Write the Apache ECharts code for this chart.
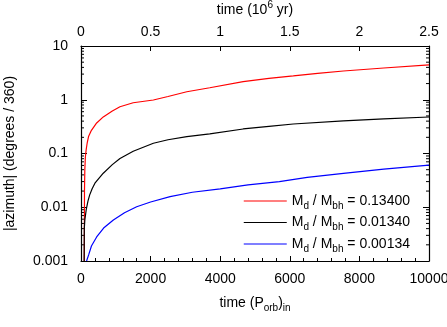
<!DOCTYPE html>
<html>
<head>
<meta charset="utf-8">
<script src="https://cdn.jsdelivr.net/npm/echarts@6/dist/echarts.min.js"></script>
<style>
html, body { margin: 0; padding: 0; background: #fff; }
#main { width: 447px; height: 327px; }
</style>
</head>
<body>
<div id="main"></div>
<script>
// time in orbital periods, azimuth in degrees/360
var tRed = [95, 100, 110, 125, 150, 180, 220, 300, 450, 640, 900, 1120, 1500, 2080, 2500, 3040, 3700, 4660, 5400, 6100, 6800, 7540, 8700, 10000];
var red = [0.001, 0.02, 0.05, 0.085, 0.12, 0.16, 0.21, 0.27, 0.37, 0.48, 0.62, 0.74, 0.88, 0.99, 1.15, 1.41, 1.67, 2.17, 2.5, 2.77, 3.1, 3.43, 3.9, 4.45];

var tBlack = [90, 95, 110, 150, 200, 250, 320, 400, 640, 900, 1120, 1500, 2080, 2500, 3040, 3700, 4660, 5400, 6100, 7540, 8700, 10000];
var black = [0.001, 0.004, 0.0058, 0.009, 0.013, 0.017, 0.022, 0.028, 0.043, 0.062, 0.081, 0.11, 0.155, 0.18, 0.206, 0.231, 0.286, 0.32, 0.354, 0.403, 0.44, 0.478];

var tBlue = [160, 220, 300, 450, 650, 930, 1250, 1600, 2000, 2560, 3200, 4000, 4800, 5700, 6500, 7540, 8700, 10000];
var blue = [0.001, 0.0013, 0.0019, 0.0028, 0.0041, 0.0058, 0.0079, 0.0102, 0.0125, 0.0158, 0.019, 0.022, 0.026, 0.030, 0.036, 0.0428, 0.051, 0.061];

var seriesNames = ['0.13400', '0.01340', '0.00134'];
var seriesColors = ['#ff0000', '#000000', '#0000ff'];
var decades = [0.001, 0.01, 0.1, 1];

var font = 'Liberation Sans, Arial, sans-serif';
var rich = {
    s: { fontSize: 10, fontFamily: font, color: '#000', lineHeight: 9, verticalAlign: 'bottom' },
    p: { fontSize: 10, fontFamily: font, color: '#000', lineHeight: 9, verticalAlign: 'top' }
};

function pairs(xs, ys) {
    var out = [];
    for (var i = 0; i < xs.length; i++) out.push([xs[i], ys[i]]);
    return out;
}

// minor ticks of the log axis: 2..9 times each decade
var minorVals = [];
decades.forEach(function (d) {
    for (var k = 2; k <= 9; k++) minorVals.push(+(d * k).toPrecision(3));
});

var myChart = echarts.init(document.getElementById('main'));

var option = {
    animation: false,
    backgroundColor: '#fff',
    grid: { left: 81, right: 18, top: 46, bottom: 66, containLabel: false, outerBoundsMode: 'none' },
    legend: {
        orient: 'vertical',
        right: 32,
        top: 186,
        itemGap: 1.5,
        itemWidth: 43,
        itemHeight: 1.2,
        icon: 'rect',
        data: seriesNames,
        textStyle: { fontSize: 14, fontFamily: font, color: '#000', lineHeight: 20, rich: rich },
        formatter: function (name) {
            return 'M{s|d} / M{s|bh} = ' + name;
        }
    },
    xAxis: [
        {
            type: 'value',
            position: 'bottom',
            min: 0,
            max: 10000,
            interval: 2000,
            name: 'time (P{s|orb})' + '{s|in}',
            nameLocation: 'middle',
            nameGap: 32,
            nameTextStyle: { fontSize: 14, fontFamily: font, color: '#000', lineHeight: 20, rich: rich },
            axisLine: { onZero: false, lineStyle: { color: '#000', width: 1.2 } },
            axisTick: { inside: true, length: 5, lineStyle: { color: '#000' } },
            minorTick: { show: true, splitNumber: 5, length: 3, lineStyle: { color: '#000' } },
            splitLine: { show: false },
            axisLabel: {
                fontSize: 14, fontFamily: font, color: '#000', margin: 11,
                formatter: function (v) { return String(v); }
            }
        },
        {
            type: 'value',
            position: 'top',
            min: 0,
            max: 2.5,
            interval: 0.5,
            name: 'time (10{p|6} yr)',
            nameLocation: 'middle',
            nameGap: 22,
            nameTextStyle: { fontSize: 14, fontFamily: font, color: '#000', lineHeight: 20, rich: rich },
            axisLine: { onZero: false, lineStyle: { color: '#000', width: 1.2 } },
            axisTick: { inside: true, length: 5, lineStyle: { color: '#000' } },
            splitLine: { show: false },
            axisLabel: { fontSize: 14, fontFamily: font, color: '#000', margin: 7 }
        }
    ],
    yAxis: [
        {
            type: 'log',
            logBase: 10,
            position: 'left',
            min: 0.001,
            max: 10,
            name: '|azimuth| (degrees / 360)',
            nameLocation: 'middle',
            nameGap: 64,
            nameTextStyle: { fontSize: 14, fontFamily: font, color: '#000' },
            axisLine: { onZero: false, lineStyle: { color: '#000', width: 1.2 } },
            axisTick: { inside: true, length: 6, lineStyle: { color: '#000' } },
            splitLine: { show: false },
            axisLabel: {
                fontSize: 14, fontFamily: font, color: '#000', margin: 13,
                formatter: function (v) { return String(+(+v).toPrecision(3)); }
            }
        },
        {
            type: 'log',
            logBase: 10,
            position: 'right',
            min: 0.001,
            max: 10,
            axisLine: { onZero: false, lineStyle: { color: '#000', width: 1.2 } },
            axisTick: { inside: true, length: 6, lineStyle: { color: '#000' } },
            splitLine: { show: false },
            axisLabel: { show: false }
        }
    ],
    series: [
        {
            name: seriesNames[0], type: 'line', showSymbol: false, xAxisIndex: 0, yAxisIndex: 0,
            data: pairs(tRed, red), lineStyle: { color: seriesColors[0], width: 1.2 },
            itemStyle: { color: seriesColors[0] }
        },
        {
            name: seriesNames[1], type: 'line', showSymbol: false, xAxisIndex: 0, yAxisIndex: 0,
            data: pairs(tBlack, black), lineStyle: { color: seriesColors[1], width: 1.2 },
            itemStyle: { color: seriesColors[1] }
        },
        {
            name: seriesNames[2], type: 'line', showSymbol: false, xAxisIndex: 0, yAxisIndex: 0,
            data: pairs(tBlue, blue), lineStyle: { color: seriesColors[2], width: 1.2 },
            itemStyle: { color: seriesColors[2] }
        },
        {
            type: 'custom',
            xAxisIndex: 0,
            yAxisIndex: 0,
            silent: true,
            clip: false,
            data: minorVals,
            encode: { y: 0 },
            renderItem: function (params, api) {
                var v = api.value(0);
                var l = api.coord([0, v]);
                var r = api.coord([10000, v]);
                var st = { stroke: '#000', lineWidth: 1 };
                return {
                    type: 'group',
                    children: [
                        { type: 'line', shape: { x1: l[0], y1: l[1], x2: l[0] + 3, y2: l[1] }, style: st },
                        { type: 'line', shape: { x1: r[0], y1: r[1], x2: r[0] - 3, y2: r[1] }, style: st }
                    ]
                };
            }
        }
    ]
};

myChart.setOption(option);
</script>
</body>
</html>
